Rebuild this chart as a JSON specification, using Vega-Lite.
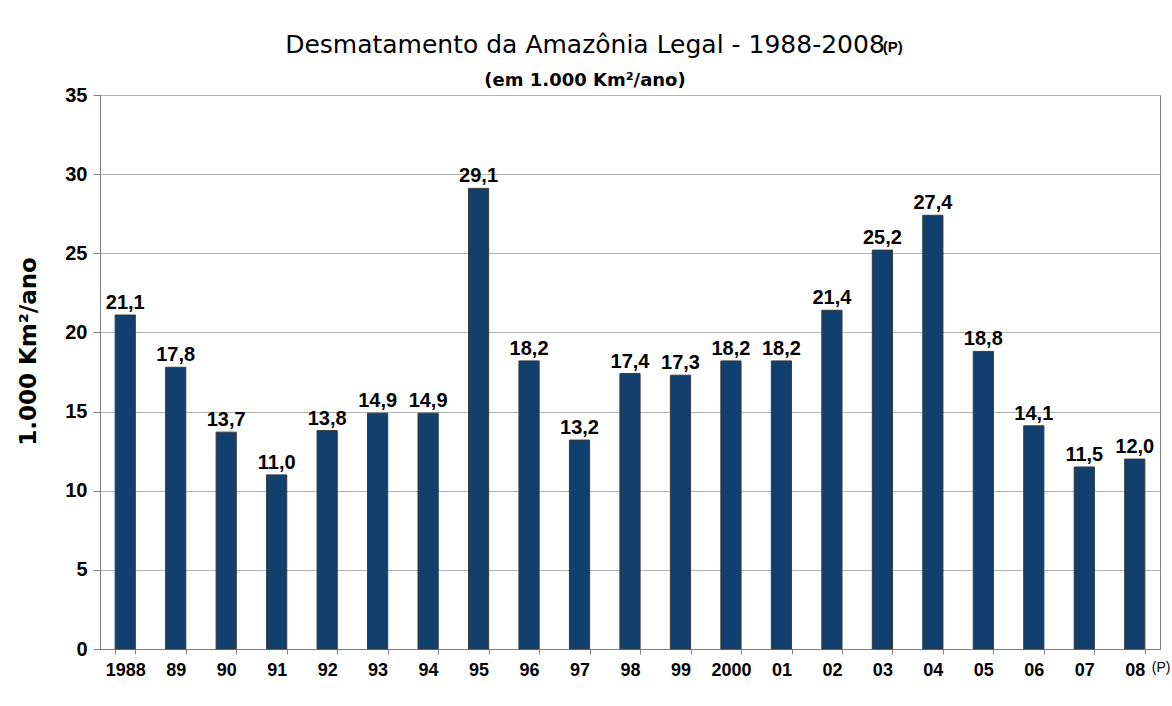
{
  "$schema": "https://vega.github.io/schema/vega-lite/v6.json",
  "width": 1060,
  "height": 554,
  "autosize": {"type": "none"},
  "padding": {"left": 100, "top": 95, "right": 12, "bottom": 57},
  "background": "white",
  "config": {
    "font": "Liberation Sans",
    "locale": {"number": {"decimal": ",", "thousands": ".", "grouping": [3], "currency": ["R$", ""]}},
    "view": {"stroke": "#808080", "strokeWidth": 1}
  },
  "title": {
    "text": "Desmatamento da Amazônia Legal - 1988-2008",
    "subtitle": "(em 1.000 Km²/ano)",
    "anchor": "middle",
    "frame": "group",
    "dx": -45,
    "offset": -50,
    "font": "DejaVu Sans",
    "fontSize": 25,
    "fontWeight": "normal",
    "color": "#000000",
    "subtitleFont": "DejaVu Sans",
    "subtitleFontSize": 18,
    "subtitleFontWeight": "bold",
    "subtitleColor": "#000000",
    "subtitlePadding": 14
  },
  "data": {
    "values": [
      {"year": "1988", "value": 21.1},
      {"year": "89", "value": 17.8},
      {"year": "90", "value": 13.7},
      {"year": "91", "value": 11.0},
      {"year": "92", "value": 13.8},
      {"year": "93", "value": 14.9},
      {"year": "94", "value": 14.9},
      {"year": "95", "value": 29.1},
      {"year": "96", "value": 18.2},
      {"year": "97", "value": 13.2},
      {"year": "98", "value": 17.4},
      {"year": "99", "value": 17.3},
      {"year": "2000", "value": 18.2},
      {"year": "01", "value": 18.2},
      {"year": "02", "value": 21.4},
      {"year": "03", "value": 25.2},
      {"year": "04", "value": 27.4},
      {"year": "05", "value": 18.8},
      {"year": "06", "value": 14.1},
      {"year": "07", "value": 11.5},
      {"year": "08", "value": 12.0}
    ]
  },
  "encoding": {
    "x": {
      "field": "year",
      "type": "ordinal",
      "scale": {
        "domain": ["1988","89","90","91","92","93","94","95","96","97","98","99","2000","01","02","03","04","05","06","07","08"],
        "paddingInner": 0.6,
        "paddingOuter": 0.3
      },
      "axis": {
        "title": null,
        "labelAngle": 0,
        "labelFont": "Liberation Sans",
        "labelFontSize": 18,
        "labelFontWeight": "bold",
        "labelColor": "#000000",
        "labelPadding": 7,
        "tickBand": "extent",
        "tickSize": 5,
        "tickColor": "#808080",
        "domainColor": "#808080",
        "grid": false
      }
    }
  },
  "layer": [
    {
      "mark": {"type": "bar", "color": "#113F6E", "stroke": "#3a3a3a", "strokeWidth": 1},
      "encoding": {
        "y": {
          "field": "value",
          "type": "quantitative",
          "scale": {"domain": [0, 35], "nice": false},
          "axis": {
            "title": "1.000 Km²/ano",
            "titleFont": "DejaVu Sans",
            "titleFontSize": 23,
            "titleFontWeight": "bold",
            "titleColor": "#000000",
            "titlePadding": 24,
            "titleY": 256,
            "values": [0, 5, 10, 15, 20, 25, 30, 35],
            "labelFont": "Liberation Sans",
            "labelFontSize": 20,
            "labelFontWeight": "bold",
            "labelColor": "#000000",
            "labelPadding": 6,
            "tickSize": 7,
            "tickColor": "#808080",
            "domainColor": "#808080",
            "gridColor": "#b3b3b3",
            "gridWidth": 1
          }
        }
      }
    },
    {
      "mark": {"type": "text", "baseline": "alphabetic", "dy": -6, "font": "Liberation Sans", "fontSize": 20, "fontWeight": "bold", "color": "#000000"},
      "encoding": {
        "y": {"field": "value", "type": "quantitative"},
        "text": {"field": "value", "type": "quantitative", "format": ".1f"}
      }
    },
    {
      "data": {"values": [{"year": "08", "note": "(P)"}]},
      "mark": {"type": "text", "align": "left", "baseline": "top", "dx": 17, "dy": 12, "font": "Liberation Sans", "fontSize": 14, "fontWeight": "normal", "color": "#000000"},
      "encoding": {
        "y": {"datum": 0, "type": "quantitative"},
        "text": {"field": "note"}
      }
    },
    {
      "data": {"values": [{"year": "04", "note": "(P)"}]},
      "mark": {"type": "text", "align": "left", "baseline": "alphabetic", "dx": -50, "dy": -43, "font": "Liberation Sans", "fontSize": 15, "fontWeight": "bold", "color": "#000000"},
      "encoding": {
        "y": {"datum": 35, "type": "quantitative"},
        "text": {"field": "note"}
      }
    }
  ]
}
